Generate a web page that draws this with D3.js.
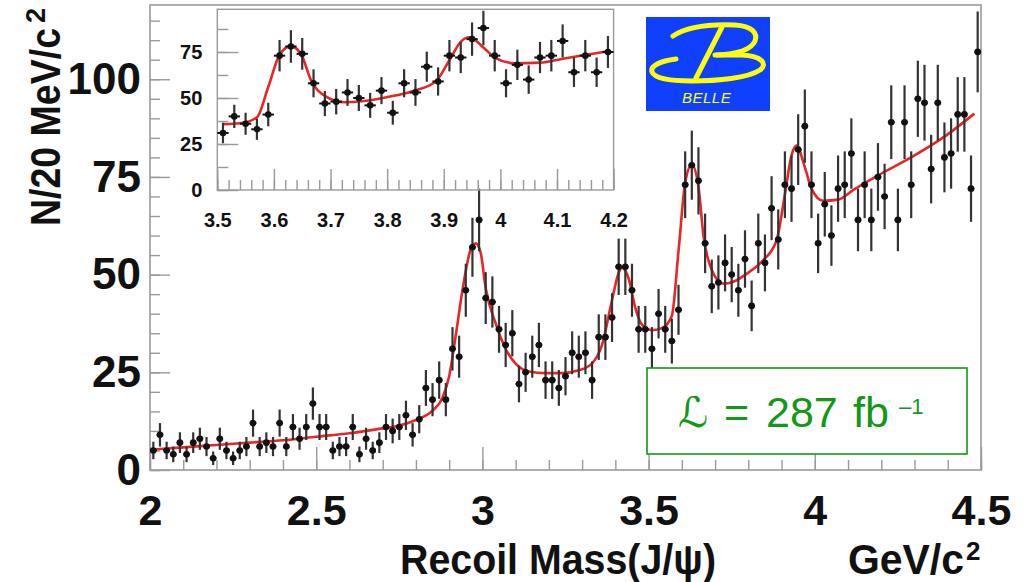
<!DOCTYPE html>
<html>
<head>
<meta charset="utf-8">
<script src="https://cdn.jsdelivr.net/npm/d3@7"></script>
<style>
  body { margin: 0; background: #fff; }
  svg { display: block; }
</style>
</head>
<body>
<svg id="chart" width="1026" height="582"></svg>
<script>
// Recoil mass against the J/psi, 20 MeV/c^2 bins from 2.00 to 4.50 GeV/c^2
const binLow = 2.0;
const binWidth = 0.02;
const counts = [
  5, 9, 5, 4, 7, 4, 7, 8, 6, 3, 8, 5, 3, 5, 6, 12, 6, 7, 6, 12, 6, 11, 8, 11, 17,
  11, 11, 5, 6, 6, 11, 4, 8, 5, 7, 11, 10, 11, 14, 9, 13, 21, 18, 23, 18, 31, 29, 46, 57, 64,
  44, 43, 36, 32, 35, 22, 25, 29, 32, 23, 23, 21, 24, 30, 29, 30, 23, 34, 34, 39, 52, 52, 46, 36, 36,
  31, 40, 36, 33, 41, 73, 78, 74, 58, 47, 48, 53, 50, 46, 54, 42, 58, 53, 67, 59, 73, 72, 82, 88, 73,
  58, 68, 60, 72, 73, 81, 64, 73, 64, 75, 70, 89, 64, 89, 73, 95, 94, 77, 94, 80, 81, 91, 91, 72, 107
];

// Fit curve (signal peaks on a smooth background), sampled along the mass axis
const fitMass = [
  2.00, 2.10, 2.20, 2.30, 2.40, 2.50, 2.60, 2.68, 2.75, 2.80, 2.85, 2.88, 2.90, 2.92, 2.94,
  2.965, 2.98, 2.995, 3.01, 3.04, 3.07, 3.10, 3.14, 3.19, 3.24, 3.29, 3.33, 3.36, 3.39, 3.41,
  3.42, 3.44, 3.46, 3.48, 3.51, 3.54, 3.57, 3.59, 3.61, 3.63, 3.65, 3.665, 3.69, 3.725, 3.755,
  3.80, 3.845, 3.885, 3.91, 3.93, 3.945, 3.97, 3.99, 4.025, 4.07, 4.115, 4.19, 4.29, 4.39, 4.48
];
const fitValue = [
  5.2, 5.8, 6.4, 7.0, 7.6, 8.5, 9.4, 10.4, 11.4, 12.8, 15.2, 18.5, 24.0, 34.5, 46.0,
  56.5, 58.0, 55.5, 46.5, 37.5, 31.0, 27.2, 25.2, 24.8, 24.8, 25.5, 27.3, 32.0, 43.5, 50.5,
  51.8, 49.0, 41.5, 37.2, 35.8, 36.3, 39.5, 56.0, 73.5, 78.2, 72.5, 60.0, 51.2, 47.7, 48.2,
  50.5, 53.7, 58.8, 70.5, 80.5, 83.0, 77.5, 72.0, 68.9, 69.2, 71.6, 75.4, 80.0, 85.3, 91.2
];

const mainXTicks = [2, 2.5, 3, 3.5, 4, 4.5];
const mainYTicks = [0, 25, 50, 75, 100];
const insetXTicks = [3.5, 3.6, 3.7, 3.8, 3.9, 4.0, 4.1, 4.2];
const insetYTicks = [0, 25, 50, 75];

const FONT = "'Liberation Sans', Arial, Helvetica, sans-serif";
const FRAME = "#9a9a9a";
const FIT = "#e8262a";

const bins = counts.map((n, i) => ({
  m: binLow + binWidth * (i + 0.5),
  n: n,
  err: Math.sqrt(n)
}));
const fit = fitMass.map((m, i) => ({ m: m, v: fitValue[i] }));

const svg = d3.select("#chart");

// ---------- main frame ----------
const main = { left: 150, right: 981, top: 5, bottom: 470 };
const x = d3.scaleLinear().domain([2, 4.5]).range([main.left, main.right]);
const y = d3.scaleLinear().domain([0, 119]).range([main.bottom, main.top]);

function tickRange(a, b, step) {
  const out = [];
  for (let k = 0; a + k * step <= b + 1e-9; k++) out.push(+(a + k * step).toFixed(4));
  return out;
}

function styleAxis(g, labelSize) {
  g.select(".domain").remove();
  g.selectAll(".tick line").attr("stroke", FRAME).attr("stroke-width", 1.4);
  g.selectAll(".tick text")
    .attr("fill", "#111")
    .attr("font-family", FONT)
    .attr("font-weight", "bold")
    .attr("font-size", labelSize);
}

// minor ticks
svg.append("g")
  .attr("transform", `translate(0,${main.bottom})`)
  .call(d3.axisBottom(x).tickValues(tickRange(2, 4.5, 0.1)).tickSize(-10).tickFormat(""))
  .call(g => styleAxis(g, 0));
svg.append("g")
  .attr("transform", `translate(${main.left},0)`)
  .call(d3.axisLeft(y).tickValues(tickRange(0, 115, 5)).tickSize(-10).tickFormat(""))
  .call(g => styleAxis(g, 0));

// major ticks with labels
svg.append("g")
  .attr("transform", `translate(0,${main.bottom})`)
  .call(d3.axisBottom(x).tickValues(mainXTicks).tickSize(-23).tickPadding(24).tickFormat(d3.format("")))
  .call(g => styleAxis(g, 43));
svg.append("g")
  .attr("transform", `translate(${main.left},0)`)
  .call(d3.axisLeft(y).tickValues(mainYTicks).tickSize(-20).tickPadding(9).tickFormat(d3.format("")))
  .call(g => styleAxis(g, 44));

svg.append("rect")
  .attr("x", main.left).attr("y", main.top)
  .attr("width", main.right - main.left).attr("height", main.bottom - main.top)
  .attr("fill", "none").attr("stroke", FRAME).attr("stroke-width", 1.6);

// ---------- data and fit, drawn into a given frame ----------
function drawSeries(layer, xs, ys, data, curve) {
  const line = d3.line().x(d => xs(d.m)).y(d => ys(d.v)).curve(d3.curveMonotoneX);
  layer.append("path")
    .datum(curve)
    .attr("d", line)
    .attr("fill", "none")
    .attr("stroke", FIT)
    .attr("stroke-width", 2.6)
    .attr("stroke-linejoin", "round");

  layer.selectAll("line.err")
    .data(data).join("line")
    .attr("class", "err")
    .attr("x1", d => xs(d.m)).attr("x2", d => xs(d.m))
    .attr("y1", d => ys(d.n - d.err)).attr("y2", d => ys(d.n + d.err))
    .attr("stroke", "#333").attr("stroke-width", 2.2);

  layer.selectAll("line.bin")
    .data(data).join("line")
    .attr("class", "bin")
    .attr("x1", d => xs(d.m - binWidth / 2)).attr("x2", d => xs(d.m + binWidth / 2))
    .attr("y1", d => ys(d.n)).attr("y2", d => ys(d.n))
    .attr("stroke", "#111").attr("stroke-width", 2);

  layer.selectAll("circle.pt")
    .data(data).join("circle")
    .attr("class", "pt")
    .attr("cx", d => xs(d.m)).attr("cy", d => ys(d.n))
    .attr("r", 3.3)
    .attr("fill", "#111");
}

drawSeries(svg.append("g"), x, y, bins, fit);

// ---------- axis titles ----------
const titleStyle = t => t
  .attr("font-family", FONT).attr("font-weight", "bold")
  .attr("fill", "#111");

svg.append("text")
  .attr("x", 400).attr("y", 574)
  .attr("font-size", 42)
  .attr("textLength", 316).attr("lengthAdjust", "spacingAndGlyphs")
  .call(titleStyle)
  .text("Recoil Mass(J/\u03C8)");

svg.append("text")
  .attr("x", 848).attr("y", 574)
  .attr("font-size", 42)
  .attr("textLength", 116).attr("lengthAdjust", "spacingAndGlyphs")
  .call(titleStyle)
  .text("GeV/c");
svg.append("text")
  .attr("x", 966).attr("y", 560)
  .attr("font-size", 26)
  .call(titleStyle)
  .text("2");

svg.append("text")
  .attr("transform", "translate(60,28) rotate(-90)")
  .attr("text-anchor", "end")
  .attr("font-size", 42)
  .attr("textLength", 198).attr("lengthAdjust", "spacingAndGlyphs")
  .call(titleStyle)
  .text("N/20 MeV/c");
svg.append("text")
  .attr("transform", "translate(45,8) rotate(-90)")
  .attr("text-anchor", "end")
  .attr("font-size", 27)
  .call(titleStyle)
  .text("2");

// ---------- inset: 3.5 - 4.2 GeV/c^2 ----------
const inset = { left: 217.3, right: 613.6, top: 9.3, bottom: 190 };
const xi = d3.scaleLinear().domain([3.5, 4.2]).range([inset.left, inset.right]);
const yi = d3.scaleLinear().domain([0, 98.2]).range([inset.bottom, inset.top]);

svg.append("g")
  .attr("transform", `translate(0,${inset.bottom})`)
  .call(d3.axisBottom(xi).tickValues(tickRange(3.5, 4.2, 0.02)).tickSize(-10).tickFormat(""))
  .call(g => styleAxis(g, 0));
svg.append("g")
  .attr("transform", `translate(${inset.left},0)`)
  .call(d3.axisLeft(yi).tickValues(tickRange(0, 87.5, 12.5)).tickSize(-11).tickFormat(""))
  .call(g => styleAxis(g, 0));
svg.append("g")
  .attr("transform", `translate(0,${inset.bottom})`)
  .call(d3.axisBottom(xi).tickValues(insetXTicks).tickSize(-21).tickPadding(23).tickFormat(d3.format("")))
  .call(g => styleAxis(g, 20));
svg.append("g")
  .attr("transform", `translate(${inset.left},0)`)
  .call(d3.axisLeft(yi).tickValues(insetYTicks).tickSize(-21).tickPadding(15).tickFormat(d3.format("")))
  .call(g => styleAxis(g, 20));

svg.append("rect")
  .attr("x", inset.left).attr("y", inset.top)
  .attr("width", inset.right - inset.left).attr("height", inset.bottom - inset.top)
  .attr("fill", "none").attr("stroke", FRAME).attr("stroke-width", 1.4);

const insetBins = bins.filter(d => d.m > 3.5 && d.m < 4.2);
const insetFit = fit.filter(d => d.m >= 3.5 && d.m <= 4.2);
drawSeries(svg.append("g"), xi, yi, insetBins, insetFit);

// ---------- experiment logo ----------
const logo = svg.append("g");
logo.append("rect")
  .attr("x", 646).attr("y", 17).attr("width", 124).attr("height", 94)
  .attr("fill", "#1040ff");
const B = logo.append("g")
  .attr("fill", "none").attr("stroke", "#ffff00")
  .attr("stroke-width", 5).attr("stroke-linecap", "round");
B.append("path").attr("d", "M673,36 C688,26 712,24 735,25 C752,26 758,33 755,41 C751,50 738,54 717,55");
B.append("path").attr("d", "M676,59 C660,61 650,66 652,72 C655,79 672,81 692,81 C718,81 748,78 760,70 C768,64 762,56 742,55 L715,55");
B.append("path").attr("d", "M722,27 L696,78");
logo.append("text")
  .attr("x", 682).attr("y", 103)
  .attr("font-family", FONT).attr("font-style", "italic").attr("font-size", 15)
  .attr("letter-spacing", 0.5)
  .attr("fill", "#ffff00")
  .text("BELLE");

// ---------- luminosity box ----------
const GREEN = "#15961b";
svg.append("rect")
  .attr("x", 647).attr("y", 368).attr("width", 320).attr("height", 86)
  .attr("fill", "#fff").attr("stroke", GREEN).attr("stroke-width", 1.6);
svg.append("text")
  .attr("x", 678).attr("y", 427)
  .attr("font-family", "'DejaVu Sans', sans-serif").attr("font-size", 42)
  .attr("fill", GREEN)
  .text("\u2112");
const lumi = [
  { t: "=", x: 724 },
  { t: "287", x: 766 },
  { t: "fb", x: 853 }
];
svg.selectAll("text.lumi")
  .data(lumi).join("text")
  .attr("class", "lumi")
  .attr("x", d => d.x).attr("y", 427)
  .attr("font-family", FONT).attr("font-size", 43)
  .attr("fill", GREEN)
  .text(d => d.t);
svg.append("text")
  .attr("x", 899).attr("y", 414)
  .attr("font-family", FONT).attr("font-size", 22)
  .attr("fill", GREEN)
  .text("\u20131");
</script>
</body>
</html>
